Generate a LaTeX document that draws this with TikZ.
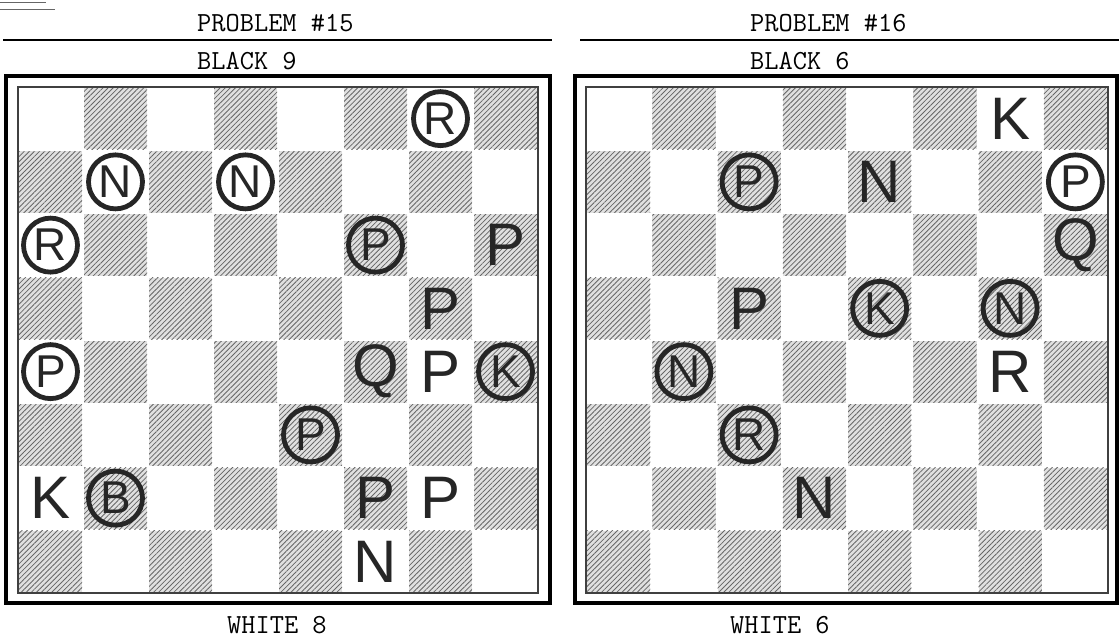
\documentclass[tikz,border=0pt]{standalone}
\usepackage{fontspec}
\setmainfont{Liberation Sans}
\usetikzlibrary{patterns.meta}
\tikzset{
  dark/.style={preaction={fill=black!12}, pattern={Lines[angle=45,distance=3.6pt,line width=0.8pt]}, pattern color=black!60},
  wp/.style={inner sep=0pt, text=black!85, font=\fontsize{60}{60}\selectfont},
  bp/.style={circle, draw=black!85, line width=4.8pt, minimum size=54pt, inner sep=0pt, text=black!85, font=\fontsize{46}{46}\selectfont},
  label/.style={anchor=base west, inner sep=0pt, font=\ttfamily\fontsize{27.6}{28}\selectfont},
  outerframe/.style={draw=black, line width=3.2pt},
  innerframe/.style={draw=black!75, line width=1.1pt},
  rule/.style={draw=black, line width=2.2pt},
  scribble/.style={draw=black!60, line width=0.8pt}
}
\begin{document}
\begin{tikzpicture}[x=1pt,y=-1pt]
\useasboundingbox (0,0) rectangle (1119,644);
% scan marks
\draw[scribble] (0,2) -- (46,2);
\draw[scribble] (0,9) -- (55,9);
% headings
\node[label] (t15) at (197,32) {PROBLEM \#15};
\node[label] (t16) at (750,32) {PROBLEM \#16};
\coordinate (r15a) at (3,40); \coordinate (r15b) at (552,40);
\coordinate (r16a) at (580,40); \coordinate (r16b) at (1119,40);
\draw[rule] (r15a) -- (r15b);
\draw[rule] (r16a) -- (r16b);
\node[label] (b15) at (197,70) {BLACK 9};
\node[label] (b16) at (750,70) {BLACK 6};
\node[label] (w15) at (227,633) {WHITE 8};
\node[label] (w16) at (730,633) {WHITE 6};
% boards
\foreach \r in {0,...,7}{
  \foreach \c in {0,...,7}{
    \pgfmathtruncatemacro{\odd}{mod(\r+\c,2)}
    \ifnum\odd=1
      \fill[dark] ({19+65*\c},{88+63.25*\r}) rectangle ++(63,61.5);
      \fill[dark] ({587+65.25*\c},{88+63.25*\r}) rectangle ++(63.25,61.5);
    \fi
  }
}
\draw[innerframe] (18,87) rectangle (538,593);
\draw[outerframe] (6,76) rectangle (550,603);
\draw[innerframe] (586,87) rectangle (1108,593);
\draw[outerframe] (575,76) rectangle (1117,603);
% problem 15 pieces
\begin{scope}[shift={(18,87)}, x=65pt, y=-63.25pt]
\node[bp] (L1) at (6.5,0.5) {R};
\node[bp] (L2) at (1.5,1.5) {N};
\node[bp] (L3) at (3.5,1.5) {N};
\node[bp] (L4) at (0.5,2.5) {R};
\node[bp] (L5) at (5.5,2.5) {P};
\node[wp] (L6) at (7.5,2.5) {P};
\node[wp] (L7) at (6.5,3.5) {P};
\node[bp] (L8) at (0.5,4.5) {P};
\node[wp] (L9) at (5.5,4.5) {Q};
\node[wp] (L10) at (6.5,4.5) {P};
\node[bp] (L11) at (7.5,4.5) {K};
\node[bp] (L12) at (4.5,5.5) {P};
\node[wp] (L13) at (0.5,6.5) {K};
\node[bp] (L14) at (1.5,6.5) {B};
\node[wp] (L15) at (5.5,6.5) {P};
\node[wp] (L16) at (6.5,6.5) {P};
\node[wp] (L17) at (5.5,7.5) {N};
\end{scope}
% problem 16 pieces
\begin{scope}[shift={(586,87)}, x=65.25pt, y=-63.25pt]
\node[wp] (R1) at (6.5,0.5) {K};
\node[bp] (R2) at (2.5,1.5) {P};
\node[wp] (R3) at (4.5,1.5) {N};
\node[bp] (R4) at (7.5,1.5) {P};
\node[wp] (R5) at (7.5,2.5) {Q};
\node[wp] (R6) at (2.5,3.5) {P};
\node[bp] (R7) at (4.5,3.5) {K};
\node[bp] (R8) at (6.5,3.5) {N};
\node[bp] (R9) at (1.5,4.5) {N};
\node[wp] (R10) at (6.5,4.5) {R};
\node[bp] (R11) at (2.5,5.5) {R};
\node[wp] (R12) at (3.5,6.5) {N};
\end{scope}
\end{tikzpicture}
\end{document}
